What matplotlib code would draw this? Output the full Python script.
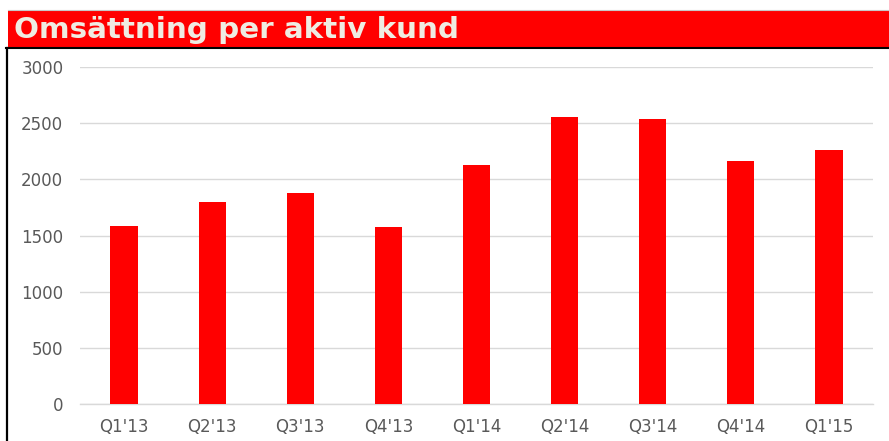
import matplotlib
matplotlib.use("Agg")
import matplotlib.pyplot as plt
from matplotlib.patches import Rectangle
from matplotlib.lines import Line2D

categories = ["Q1'13", "Q2'13", "Q3'13", "Q4'13", "Q1'14", "Q2'14", "Q3'14", "Q4'14", "Q1'15"]
values = [1586, 1800, 1883, 1577, 2126, 2559, 2541, 2162, 2263]
yticks = [0, 500, 1000, 1500, 2000, 2500, 3000]
title = "Omsättning per aktiv kund"

W, H = 889, 441
fig = plt.figure(figsize=(W / 100, H / 100), dpi=100)
fig.patch.set_facecolor("white")

# Title banner
fig.patches.append(Rectangle((8 / W, 1 - 47 / H), 1 - 8 / W, 37.5 / H,
                             transform=fig.transFigure, facecolor="#FF0000",
                             edgecolor="none", zorder=1))
fig.lines.append(Line2D([8 / W, 1], [1 - 9.5 / H, 1 - 9.5 / H], transform=fig.transFigure,
                        color="#C8C8C8", lw=0.8))
fig.lines.append(Line2D([6 / W, 1], [1 - 47.5 / H, 1 - 47.5 / H], transform=fig.transFigure,
                        color="black", lw=1.5))
fig.lines.append(Line2D([6.5 / W, 6.5 / W], [0, 1 - 47.5 / H], transform=fig.transFigure,
                        color="black", lw=1.6))
fig.text(14 / W, 1 - 37.7 / H, title, fontsize=21.2, fontweight="bold",
         color="#EFECE2", va="baseline", ha="left", family="DejaVu Sans")

ax = fig.add_axes([80 / W, 1 - 404.3 / H, (873 - 80) / W, (404.3 - 67) / H])
x = list(range(len(categories)))
ax.bar(x, values, width=0.31, color="#FF0000", zorder=3)
ax.set_xlim(-0.5, len(categories) - 0.5)
ax.set_ylim(0, 3000)
ax.set_yticks(yticks)
ax.set_yticklabels([str(v) for v in yticks])
ax.set_xticks(x)
ax.set_xticklabels(categories)
ax.grid(axis="y", color="#D9D9D9", lw=1.0, zorder=0)
for s in ["top", "right", "left"]:
    ax.spines[s].set_visible(False)
ax.spines["bottom"].set_color("#D9D9D9")
ax.spines["bottom"].set_linewidth(1.0)
ax.tick_params(axis="both", length=0, labelcolor="#595959", labelsize=12)
ax.tick_params(axis="y", pad=12)
ax.tick_params(axis="x", pad=10)

fig.savefig("out.png", dpi=100)
